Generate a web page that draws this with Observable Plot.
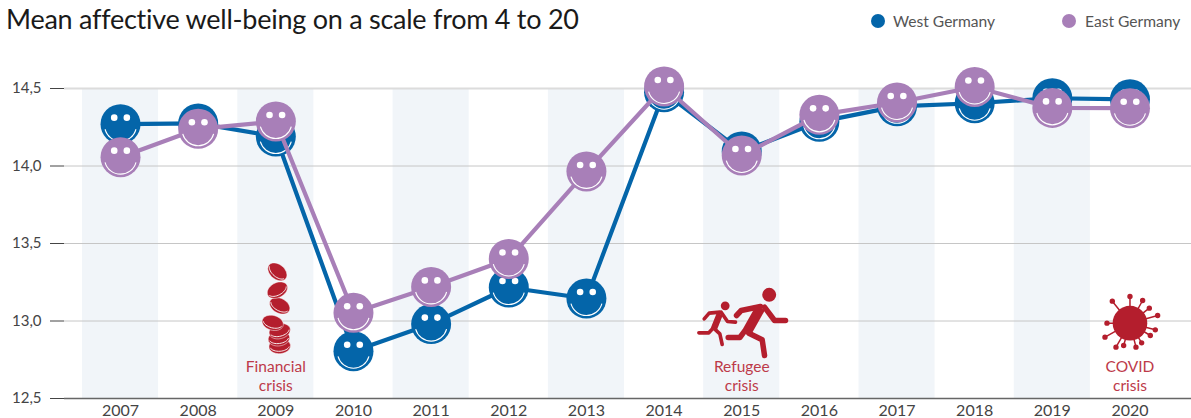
<!DOCTYPE html>
<html><head><meta charset="utf-8">
<script src="https://cdn.jsdelivr.net/npm/d3@7"></script>
<script src="https://cdn.jsdelivr.net/npm/@observablehq/plot@0.6"></script>
<style>
html,body{margin:0;padding:0;background:#fff;font-family:Lato,sans-serif}
#head{position:relative;height:44px;width:1191px;overflow:visible}
#title{position:absolute;left:6px;top:0;font-size:27px;line-height:38px;color:#1a1a1a;white-space:nowrap;margin:0;font-weight:400;letter-spacing:-.26px}
.lg{position:absolute;top:12px;font-size:15.6px;line-height:18px;color:#555;white-space:nowrap}
.lg i{position:absolute;top:2px;width:14px;height:14px;border-radius:50%}
svg{display:block;overflow:visible}
</style></head><body>
<div id="head">
<h1 id="title">Mean affective well-being on a scale from 4 to 20</h1>
<div class="lg" style="left:893px"><i style="left:-22px;background:#0465a9"></i>West Germany</div>
<div class="lg" style="left:1085px"><i style="left:-23px;background:#a87fb8"></i>East Germany</div>
</div>
<div id="chart"></div>
<script>
const years=[2007,2008,2009,2010,2011,2012,2013,2014,2015,2016,2017,2018,2019,2020];
const west=[14.27,14.275,14.19,12.805,12.98,13.216,13.145,14.476,14.094,14.285,14.385,14.405,14.437,14.43];
const east=[14.057,14.24,14.287,13.053,13.22,13.40,13.965,14.513,14.068,14.33,14.41,14.51,14.375,14.373];
const bandYears=[2007,2009,2011,2013,2015,2017,2019];
const yTicks=[12.5,13,13.5,14,14.5];
const crisisLabels=[
 {year:2009.0,value:12.705,text:"Financial"},{year:2009.0,value:12.583,text:"crisis"},
 {year:2015.0,value:12.705,text:"Refugee"},{year:2015.0,value:12.583,text:"crisis"},
 {year:2020.0,value:12.705,text:"COVID"},{year:2020.0,value:12.583,text:"crisis"}];
const coinYears=[2009.05,2009.04,2009.05,2008.96,2009.05,2009.02,2009.02];
const coinValues=[12.837,12.887,12.934,12.988,13.098,13.199,13.317];
const coinAngles=[-4,-8,-15,15,28,-28,40];
const colWest="#0465a9",colEast="#a87fb8",colRed="#b41e2d",colRedText="#bd3a49";

const rows=s=>years.map((y,i)=>({year:y,value:s[i]}));
const W=rows(west),E=rows(east);

const smile={draw(c){const R=16;c.moveTo(R*Math.cos(.26),R*Math.sin(.26)+1);c.arc(0,1,R,.26,Math.PI-.26);}};
const poly=(pts)=>({draw(c){pts.forEach(l=>{l.forEach((p,i)=>i?c.lineTo(p[0],p[1]):c.moveTo(p[0],p[1]));});}});
const rel=(ox,oy,pts)=>pts.map(l=>l.map(p=>[p[0]/3-ox,p[1]/3-oy]));
function coinBody(a){const t=a*Math.PI/180,rx=10.8,ry=7.4;return {draw(c){for(let k=0;k<40;k++){const u=k/40*2*Math.PI,x=rx*Math.cos(u),y=ry*Math.sin(u),X=x*Math.cos(t)-y*Math.sin(t),Y=x*Math.sin(t)+y*Math.cos(t);k?c.lineTo(X,Y):c.moveTo(X,Y);}c.closePath();}};}
function coinArc(a){const t=a*Math.PI/180,rx=9.8,ry=5.4;return {draw(c){for(let k=0;k<=16;k++){const u=.25+k/16*(Math.PI-.5),x=rx*Math.cos(u),y=ry*Math.sin(u)-.4,X=x*Math.cos(t)-y*Math.sin(t),Y=x*Math.sin(t)+y*Math.cos(t);k?c.lineTo(X,Y):c.moveTo(X,Y);}}};}
const circleAt=(x,y,r)=>({draw(c){c.moveTo(x+r,y);c.arc(x,y,r,0,2*Math.PI);c.closePath();}});

const rOx=61.2,rOy=50.5;
const runTorso=poly(rel(rOx,rOy,[[[240,112],[197,188]]]));
const runLimbs=poly(rel(rOx,rOy,[
 [[240,108],[182,120],[168,135]],[[252,110],[282,150],[315,150]],
 [[205,188],[245,208],[252,255]],[[190,185],[178,201],[143,201]]]));
const smallTorso=poly(rel(rOx,rOy,[[[118,130],[100,175]]]));
const smallLimbs=poly(rel(rOx,rOy,[
 [[118,125],[86,128],[71,145]],[[122,125],[141,153],[165,155]],
 [[102,175],[118,190],[125,222]],[[96,175],[85,187],[55,187]]]));
const heads={draw(c){circleAt(266/3-rOx,73/3-rOy,7).draw(c);circleAt(134/3-rOx,106/3-rOy,4.4).draw(c);}};

const tips=[[177,48],[215,60],[235,83],[260,105],[253,148],[238,165],[212,187],[195,200],[158,195],[135,200],[102,170],[108,128],[124,62]].map(p=>[(p[0]-177)/3,(p[1]-128)/3]);
const spikes={draw(c){tips.forEach(p=>{c.moveTo(0,0);c.lineTo(p[0],p[1]);});}};
const tipDots={draw(c){tips.forEach(p=>circleAt(p[0],p[1],2.7).draw(c));}};
const virusBody=circleAt(0,0,17.3);

const faces=(data,color)=>[
 Plot.dot(data,{x:"year",y:"value",r:20,fill:color}),
 Plot.dot(data,{x:"year",y:"value",r:3.3,fill:"#fff",dx:-6.3,dy:-6.5}),
 Plot.dot(data,{x:"year",y:"value",r:3.3,fill:"#fff",dx:6.3,dy:-6.5}),
 Plot.dot(data,{x:"year",y:"value",r:16,symbol:smile,fill:"none",stroke:"#fff",strokeWidth:1.1})
];
const anchor=(yr,v)=>[{year:yr,value:v}];
const R=anchor(2015,13), V=anchor(2020,12.986);
const xy={x:"year",y:"value",r:10};

const coins=coinYears.flatMap((yr,i)=>[
 Plot.dot(anchor(yr,coinValues[i]),{...xy,symbol:coinBody(coinAngles[i]),fill:colRed,stroke:"#fff",strokeWidth:.5}),
 Plot.dot(anchor(yr,coinValues[i]),{...xy,symbol:coinArc(coinAngles[i]),fill:"none",stroke:"#fff",strokeWidth:.9})
]);

const plot=Plot.plot({
 width:1191,height:374,
 marginLeft:64,marginRight:0,marginTop:44,marginBottom:20,
 x:{domain:[2006.5,2020.5],range:[81.2,1168.3],label:null},
 y:{domain:[12.5,14.5],range:[354,44],label:null},
 style:{fontFamily:"Lato,sans-serif",background:"transparent",overflow:"visible"},
 marks:[
  Plot.rect(bandYears,{x1:d=>d-.49,x2:d=>d+.49,y1:12.5,y2:14.5,fill:"#f1f5f9"}),
  Plot.ruleY(yTicks.filter(d=>d>12.5&&d<14.5),{stroke:"#c6c6c6",strokeWidth:1}),
  Plot.ruleY([14.5],{stroke:"#dcdcdc",strokeWidth:2}),
  Plot.ruleY([12.5],{stroke:"#666",strokeWidth:1.5}),
  Plot.axisY({ticks:yTicks,tickSize:14,tickPadding:9,tickFormat:d=>d3.format(".1f")(d).replace(".",","),fontSize:15,label:null,color:"#444",stroke:"#444"}),
  Plot.axisX({ticks:years,tickSize:0,tickPadding:6,tickFormat:d=>String(d),fontSize:16,label:null,color:"#444"}),
  ...coins,
  Plot.dot(R,{...xy,symbol:runTorso,fill:"none",stroke:colRed,strokeWidth:10,strokeLinecap:"butt"}),
  Plot.dot(R,{...xy,symbol:runLimbs,fill:"none",stroke:colRed,strokeWidth:5.5,strokeLinecap:"round",strokeLinejoin:"round"}),
  Plot.dot(R,{...xy,symbol:smallTorso,fill:"none",stroke:colRed,strokeWidth:6.5}),
  Plot.dot(R,{...xy,symbol:smallLimbs,fill:"none",stroke:colRed,strokeWidth:3.6,strokeLinecap:"round",strokeLinejoin:"round"}),
  Plot.dot(R,{...xy,symbol:heads,fill:colRed}),
  Plot.dot(V,{...xy,symbol:spikes,fill:"none",stroke:colRed,strokeWidth:1.5}),
  Plot.dot(V,{...xy,symbol:tipDots,fill:colRed}),
  Plot.dot(V,{...xy,symbol:virusBody,fill:colRed}),
  Plot.text(crisisLabels,{x:"year",y:"value",text:"text",fill:colRedText,fontSize:15.5,textAnchor:"middle"}),
  Plot.line(W,{x:"year",y:"value",stroke:colWest,strokeWidth:4.2}),
  ...faces(W,colWest),
  Plot.line(E,{x:"year",y:"value",stroke:colEast,strokeWidth:4.2}),
  ...faces(E,colEast)
 ]
});
document.getElementById("chart").appendChild(plot);
</script>
</body></html>
